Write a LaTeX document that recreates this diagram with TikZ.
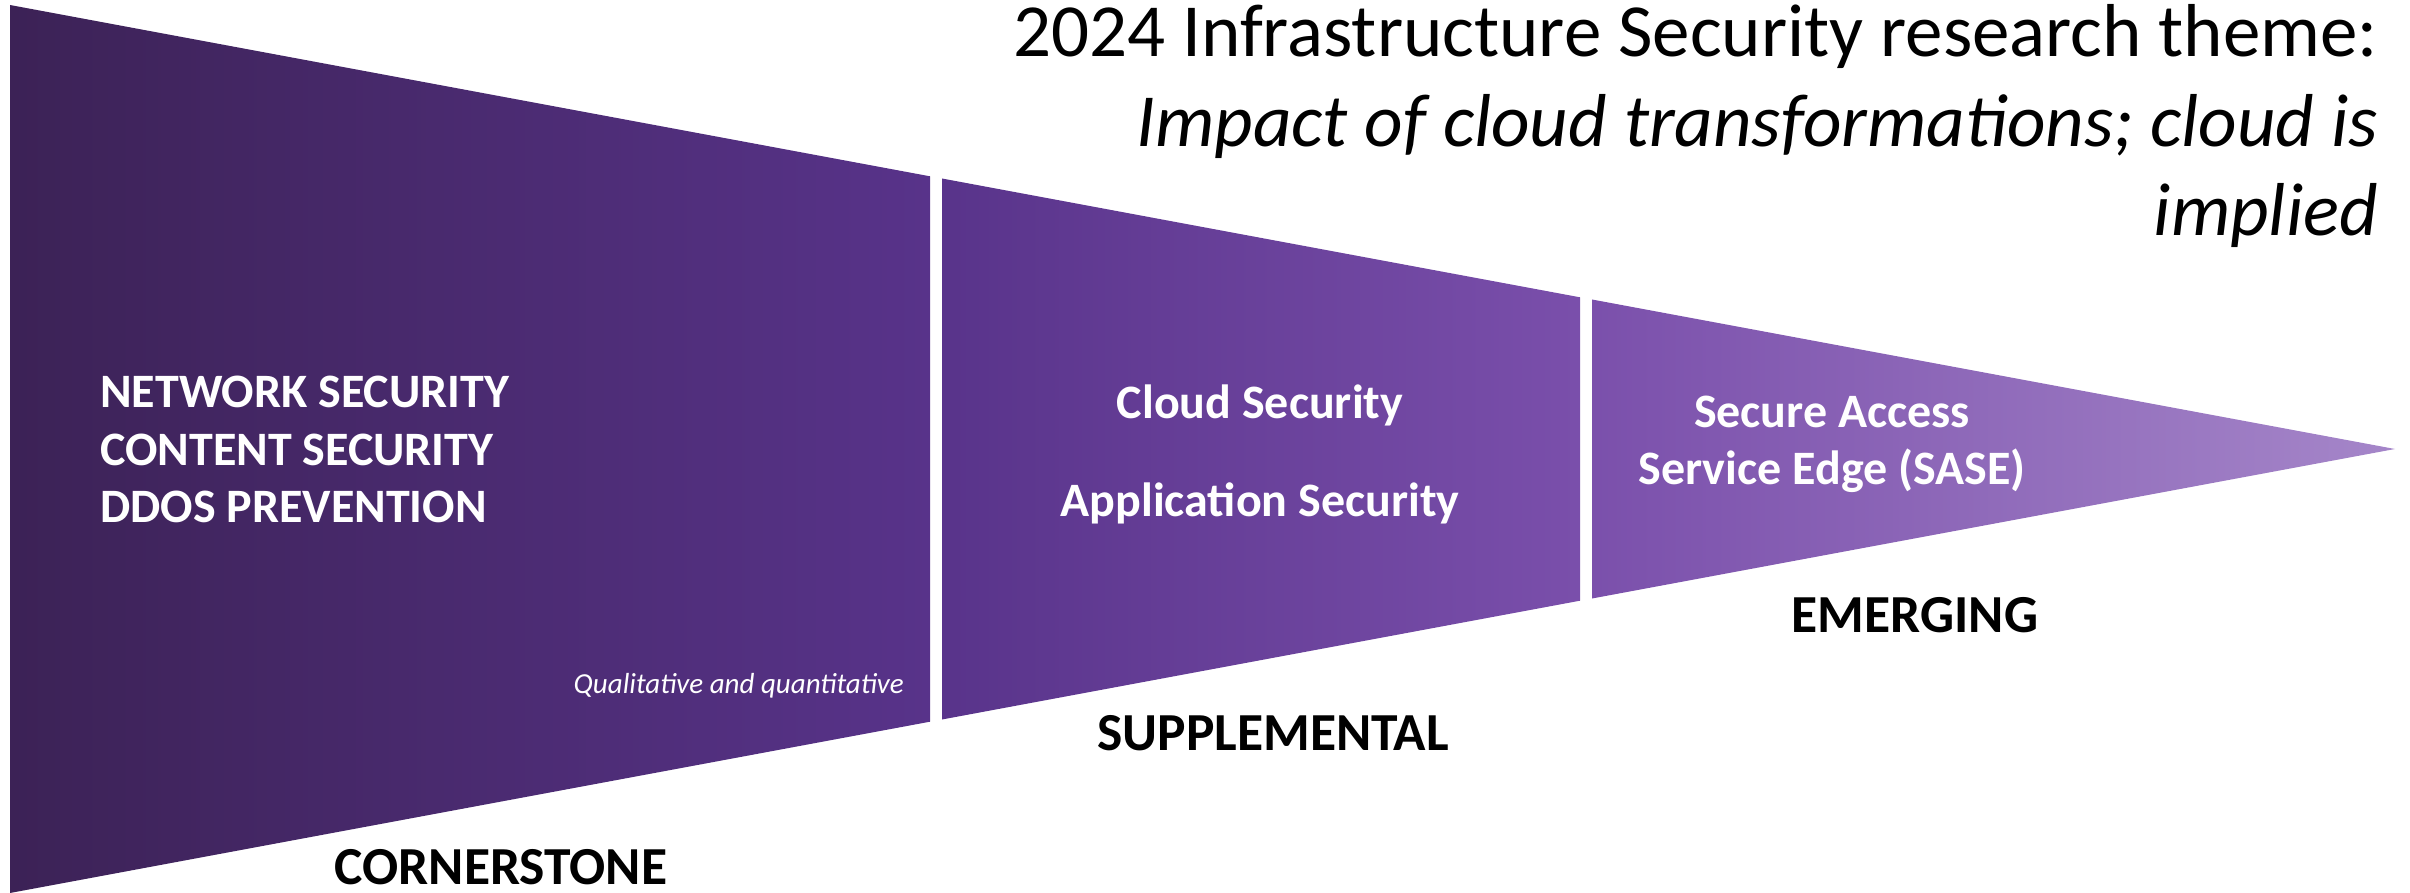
\documentclass[tikz,border=0pt]{standalone}
\usepackage{fontspec}
\setmainfont{Carlito}
\definecolor{pc0}{HTML}{3C2256}
\definecolor{pc1}{HTML}{58338A}
\definecolor{pc2}{HTML}{7A4FAB}
\definecolor{pc3}{HTML}{A586C9}
\pgfdeclarehorizontalshading{funnelshade}{100bp}{color(0bp)=(pc0); color(25bp)=(pc0); color(44.3bp)=(pc1); color(57.9bp)=(pc2); color(75bp)=(pc3); color(100bp)=(pc3)}
\tikzset{
  wtext/.style={text=white, font=\fontsize{48}{58}\selectfont\bfseries, inner sep=0pt},
  ltext/.style={text=black, font=\fontsize{53.5}{60}\selectfont\bfseries, inner sep=0pt, anchor=base},
  ttext/.style={text=black, font=\fontsize{75}{90}\selectfont, inner sep=0pt, anchor=base east},
}
\begin{document}
\begin{tikzpicture}[x=1pt,y=-1pt]
\useasboundingbox (0,0) rectangle (2410,893);
% funnel pieces
\coordinate (A1) at (10,5);
\coordinate (A2) at (930,176.3);
\coordinate (A3) at (930,721.7);
\coordinate (A4) at (10,893);
\coordinate (B1) at (942,178.5);
\coordinate (B2) at (1580,297.3);
\coordinate (B3) at (1580,600.7);
\coordinate (B4) at (942,719.5);
\coordinate (C1) at (1592,299.5);
\coordinate (C2) at (2395,449);
\coordinate (C3) at (1592,598.5);
\shade[shading=funnelshade]
  (A1) -- (A2) -- (A3) -- (A4) -- cycle
  (B1) -- (B2) -- (B3) -- (B4) -- cycle
  (C1) -- (C2) -- (C3) -- cycle;
% title
\node[ttext] (t1) at (2378,57) {2024 Infrastructure Security research theme:};
\node[ttext] (t2) at (2378,147) {\itshape Impact of cloud transformations; cloud is};
\node[ttext] (t3) at (2378,236) {\itshape implied};
% cornerstone
\node[wtext, anchor=base west] (n1) at (100,407) {NETWORK SECURITY};
\node[wtext, anchor=base west] (n2) at (100,465) {CONTENT SECURITY};
\node[wtext, anchor=base west] (n3) at (100,522) {DDOS PREVENTION};
\node[text=white, font=\fontsize{29}{35}\selectfont\itshape, inner sep=0pt, anchor=base east] (q) at (904,693) {Qualitative and quantitative};
% supplemental
\node[wtext, anchor=base] (s1) at (1260,418) {Cloud Security};
\node[wtext, anchor=base] (s2) at (1260,516) {Application Security};
% emerging
\node[wtext, anchor=base] (e1) at (1832,427) {Secure Access};
\node[wtext, anchor=base] (e2) at (1832,484) {Service Edge (SASE)};
% labels
\node[ltext] (l1) at (501,884) {CORNERSTONE};
\node[ltext] (l2) at (1273,750) {SUPPLEMENTAL};
\node[ltext] (l3) at (1915,632) {EMERGING};
\end{tikzpicture}
\end{document}
